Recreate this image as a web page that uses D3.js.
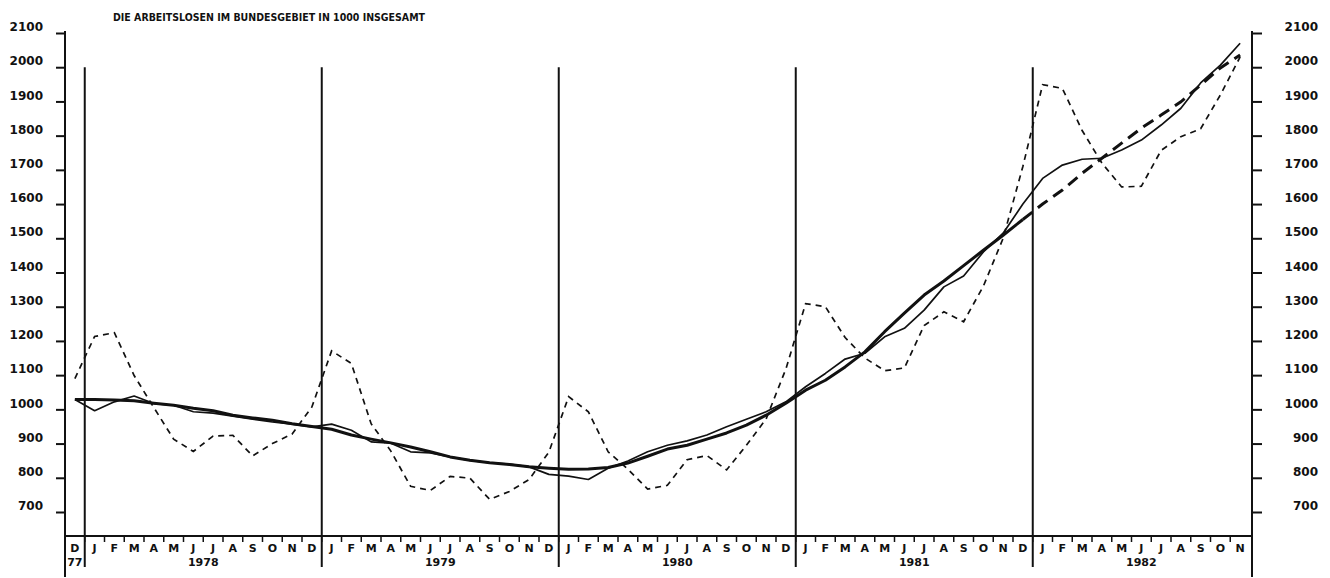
<!DOCTYPE html>
<html>
<head>
<meta charset="utf-8">
<script src="https://cdn.jsdelivr.net/npm/d3@7"></script>
<style>
  body { margin: 0; background: #fff; }
  svg text { font-family: "DejaVu Sans", sans-serif; font-weight: bold; fill: #111; }
</style>
</head>
<body>
<div id="chart"></div>
<script>
const WIDTH = 1330;
const HEIGHT = 578;
const TITLE = 'DIE ARBEITSLOSEN IM BUNDESGEBIET IN 1000 INSGESAMT';

// categories: Dec 1977 .. Nov 1982, one letter per month
const yearMonths = ['J', 'F', 'M', 'A', 'M', 'J', 'J', 'A', 'S', 'O', 'N', 'D'];
const monthLetters = ['D']
  .concat(yearMonths, yearMonths, yearMonths, yearMonths, yearMonths.slice(0, 11));
const yearLabels = ['77', '1978', '1979', '1980', '1981', '1982'];
const yearFirstMonth = [0, 1, 13, 25, 37, 49];
const yearLastMonth = [0, 12, 24, 36, 48, 59];
const yTicks = [700, 800, 900, 1000, 1100, 1200, 1300, 1400, 1500, 1600, 1700, 1800, 1900, 2000, 2100];

// Arbeitslose in 1000: unbereinigt (gestrichelt)
const rawValues = [1090,
  1213, 1224, 1099, 1005, 913, 877, 922, 924, 864, 900, 928, 1007,
  1171, 1134, 958, 878, 775, 763, 804, 799, 737, 760, 795, 875,
  1037, 993, 876, 825, 767, 778, 853, 865, 823, 895, 972, 1118,
  1309, 1300, 1210, 1150, 1113, 1121, 1245, 1285, 1256, 1360, 1500, 1710,
  1949, 1938, 1815, 1720, 1650, 1652, 1757, 1797, 1820, 1919, 2030];

// saisonbereinigt (duenne Linie)
const adjustedValues = [1029,
  996, 1022, 1039, 1017, 1012, 993, 989, 980, 971, 963, 957, 949,
  957, 939, 905, 901, 876, 873, 861, 851, 844, 840, 832, 810,
  805, 795, 828, 849, 876, 895, 908, 925, 949, 971, 993, 1022,
  1066, 1105, 1147, 1164, 1212, 1237, 1290, 1358, 1390, 1460, 1515, 1600,
  1675, 1714, 1731, 1734, 1758, 1787, 1831, 1880, 1954, 2006, 2070];

// Trend (dicke Linie), ab Dez 1981 gestrichelt
const trendValues = [1029,
  1029, 1027, 1025, 1018, 1012, 1003, 996, 983, 975, 968, 958, 950,
  942, 925, 913, 902, 890, 876, 861, 851, 844, 839, 832, 828,
  825, 826, 830, 843, 863, 884, 895, 913, 931, 954, 983, 1018,
  1056, 1085, 1124, 1168, 1227, 1281, 1334, 1375, 1420, 1465, 1509, 1555,
  1600, 1641, 1690, 1734, 1778, 1822, 1860, 1899, 1948, 1998, 2036];
const TREND_DASH_FROM = 48;

const LEFT = 65;
const RIGHT = 1252;
const BASE_Y = 536;
const AXIS_BOTTOM = 577;
const SEP_BOTTOM = 567;

const svg = d3.select('#chart').append('svg')
  .attr('width', WIDTH)
  .attr('height', HEIGHT)
  .style('background', '#fff');

const x = d3.scaleLinear().domain([0, monthLetters.length]).range([LEFT, RIGHT - 2]);
const y = d3.scaleLinear().domain([700, 2100]).range([512, 33]);

// title
svg.append('text')
  .attr('x', 113)
  .attr('y', 20.5)
  .attr('font-size', 10.5)
  .attr('textLength', 312)
  .attr('lengthAdjust', 'spacingAndGlyphs')
  .text(TITLE);

// y axes
const fmt = d3.format('d');
const leftAxis = svg.append('g')
  .attr('transform', `translate(${LEFT},0)`)
  .call(d3.axisLeft(y).tickValues(yTicks).tickFormat(fmt).tickSize(9).tickPadding(13));
const rightAxis = svg.append('g')
  .attr('transform', `translate(${RIGHT},0)`)
  .call(d3.axisRight(y).tickValues(yTicks).tickFormat(fmt).tickSize(10).tickPadding(20));

[leftAxis, rightAxis].forEach(g => {
  g.select('.domain').remove();
  g.selectAll('.tick line').attr('stroke', '#111').attr('stroke-width', 2);
  g.selectAll('.tick text')
    .attr('font-size', 12)
    .attr('dy', -2.3)
    .style('font-family', '"DejaVu Sans", sans-serif')
    .style('font-weight', 'bold')
    .attr('fill', '#111');
});
rightAxis.selectAll('.tick text').attr('text-anchor', 'end').attr('x', 66);

// axis lines, longer than the value range
[LEFT, RIGHT].forEach(px => {
  svg.append('line')
    .attr('x1', px).attr('x2', px)
    .attr('y1', y(2106)).attr('y2', AXIS_BOTTOM)
    .attr('stroke', '#111').attr('stroke-width', 2);
});

// baseline
svg.append('line')
  .attr('x1', LEFT).attr('x2', RIGHT)
  .attr('y1', BASE_Y).attr('y2', BASE_Y)
  .attr('stroke', '#111').attr('stroke-width', 2.2);

// year boundary lines
yearFirstMonth.slice(1).forEach(m => {
  svg.append('line')
    .attr('x1', x(m)).attr('x2', x(m))
    .attr('y1', y(2000)).attr('y2', SEP_BOTTOM)
    .attr('stroke', '#111').attr('stroke-width', 2);
});

// month ticks and letters
const monthG = svg.append('g');
monthG.selectAll('line')
  .data(d3.range(1, monthLetters.length))
  .enter().append('line')
  .attr('x1', d => x(d)).attr('x2', d => x(d))
  .attr('y1', BASE_Y).attr('y2', BASE_Y + 6)
  .attr('stroke', '#111').attr('stroke-width', 1.5);
monthG.selectAll('text')
  .data(monthLetters)
  .enter().append('text')
  .attr('x', (d, i) => x(i + 0.5))
  .attr('y', BASE_Y + 16)
  .attr('text-anchor', 'middle')
  .attr('font-size', 11)
  .text(d => d);

// year labels
svg.append('g').selectAll('text')
  .data(yearLabels)
  .enter().append('text')
  .attr('x', (d, i) => (x(yearFirstMonth[i]) + x(yearLastMonth[i] + 1)) / 2)
  .attr('y', BASE_Y + 30)
  .attr('text-anchor', 'middle')
  .attr('font-size', 11)
  .text(d => d);

// series
const line = d3.line()
  .x(d => x(d.i + 0.5))
  .y(d => y(d.v));
const pts = arr => arr.map((v, i) => ({ i, v }));

svg.append('path')
  .attr('d', line(pts(rawValues)))
  .attr('fill', 'none')
  .attr('stroke', '#111')
  .attr('stroke-width', 1.7)
  .attr('stroke-dasharray', '6,5');

svg.append('path')
  .attr('d', line(pts(adjustedValues)))
  .attr('fill', 'none')
  .attr('stroke', '#111')
  .attr('stroke-width', 1.7)
  .attr('stroke-linejoin', 'round');

const trendPts = pts(trendValues);
svg.append('path')
  .attr('d', line(trendPts.slice(0, TREND_DASH_FROM + 1)))
  .attr('fill', 'none')
  .attr('stroke', '#111')
  .attr('stroke-width', 3)
  .attr('stroke-linejoin', 'round');
svg.append('path')
  .attr('d', line(trendPts.slice(TREND_DASH_FROM)))
  .attr('fill', 'none')
  .attr('stroke', '#111')
  .attr('stroke-width', 3)
  .attr('stroke-dasharray', '12,7');
</script>
</body>
</html>
